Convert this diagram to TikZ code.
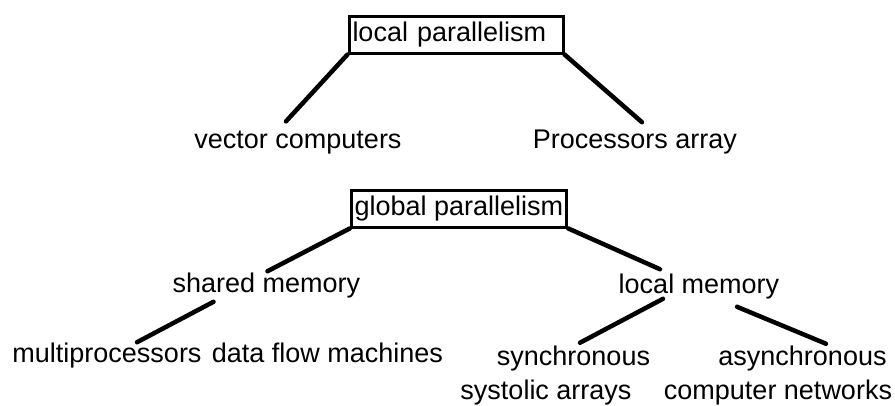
\documentclass[tikz,border=0pt]{standalone}
\usepackage{fontspec}
\setmainfont{Liberation Sans}
\usepackage{tikz}
\usetikzlibrary{positioning}
\tikzset{class box/.style={draw, line width=3pt, inner xsep=3.5pt, minimum height=37pt}}
\tikzset{leaf/.style={inner sep=0pt, anchor=base}}
\tikzset{branch/.style={line width=4.5pt, line cap=round}}

\begin{document}
\begin{tikzpicture}[x=1pt, y=-1pt, font=\fontsize{27}{34}\selectfont]
    \useasboundingbox (0,0) rectangle (895,405);

    \node[class box, text width=207pt, align=left] (par-l) at (456,34.5) {local parallelism};
    \node[leaf] (vec-c) at (298,148) {vector computers};
    \node[leaf, base right=131pt of vec-c] (proc-a) {Processors array};

    \draw[branch] (par-l.south west) -- ([xshift=-12pt,yshift=9pt]vec-c.north);
    \draw[branch] (par-l.south east) -- ([xshift=7pt,yshift=7pt]proc-a.north);

    \node[class box] (par-g) at (459,208.5) {global parallelism};
    \node[leaf] (mem-s) at (266.5,292) {shared memory};
    \node[leaf] (mem-l) at (699,293) {local memory};

    \draw[branch] (par-g.south west) -- ([xshift=1pt,yshift=1pt]mem-s.north);
    \draw[branch] (par-g.south east) -- ([xshift=-39pt,yshift=4pt]mem-l.north);

    \node[leaf] (mult) at (107,362) {multiprocessors};
    \node[leaf, base right=10pt of mult] (dat-f) {data flow machines};
    \node[leaf] (sync) at (573.5,365) {synchronous};
    \node[leaf] (sync-2) at (546,399) {systolic arrays};
    \node[leaf] (async) at (802.5,365) {asynchronous};
    \node[leaf] (async-2) at (778,399) {computer networks};

    \draw[branch] ([xshift=-53pt,yshift=-4pt]mem-s.south) -- ([xshift=30pt]mult.north);
    \draw[branch] ([xshift=-36pt]mem-l.south) -- ([xshift=6.5pt,yshift=2.5pt]sync.north);
    \draw[branch] ([xshift=38pt,yshift=-8pt]mem-l.south) -- ([xshift=23.5pt,yshift=1.5pt]async.north);
  \end{tikzpicture}
\end{document}
